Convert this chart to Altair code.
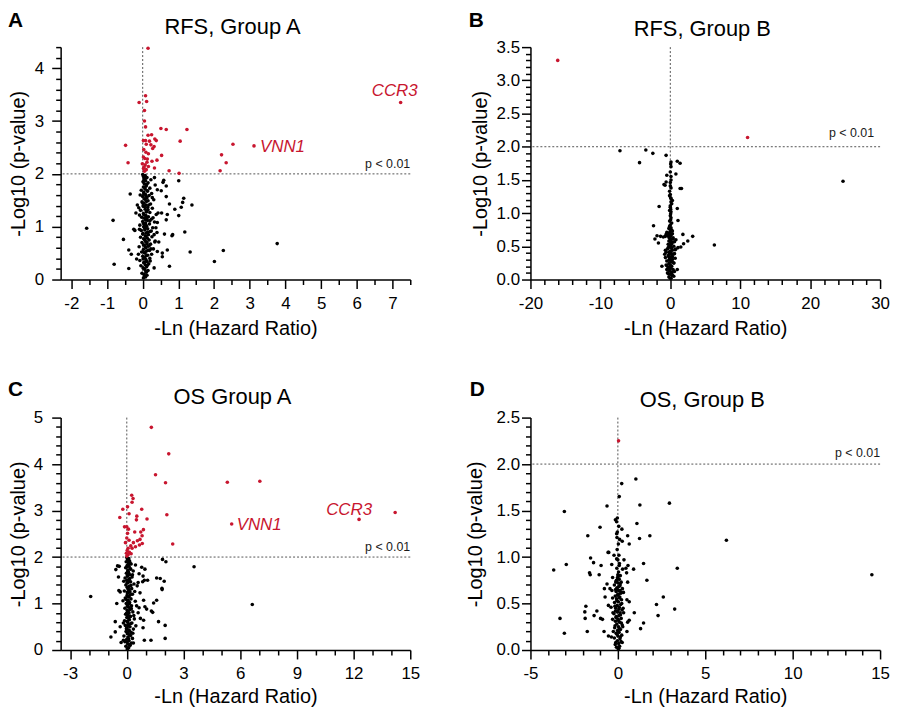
import altair as alt
import pandas as pd

FONT = "Liberation Sans"
RED = "#C8162F"
W, H = 352, 234
THRESH_Y = 2
ZERO_X = 0
DOT = 13

# ---------------- Panel A: RFS, Group A ----------------
A_SIG = [
    (0.15, 4.38), (0.08, 3.48), (0.11, 3.37), (-0.10, 3.35), (0.05, 3.20), (0.05, 3.00), (0.08, 2.89),
    (0.51, 2.86), (0.66, 2.84), (1.24, 2.84), (0.15, 2.73), (0.25, 2.74), (0.34, 2.66), (0.38, 2.63),
    (0.02, 2.63), (0.08, 2.63), (0.19, 2.62), (1.05, 2.62), (0.10, 2.56), (0.23, 2.55), (0.32, 2.52),
    (-0.48, 2.54), (0.28, 2.48), (0.03, 2.46), (2.21, 2.36), (0.53, 2.35), (0.16, 2.38), (0.02, 2.32),
    (0.06, 2.29), (0.40, 2.26), (0.26, 2.24), (0.12, 2.22), (-0.41, 2.21), (-0.01, 2.19), (0.07, 2.17),
    (0.16, 2.14), (0.33, 2.11), (0.74, 2.06), (1.02, 2.01), (0.02, 2.10), (2.17, 2.06), (2.34, 2.21),
    (2.53, 2.56), (3.12, 2.53), (7.23, 3.35), (0.05, 2.05), (0.10, 2.08), (0.04, 2.13), (0.13, 2.28),
    (0.09, 2.41),
]
A_NS = [
    (-1.57, 0.97), (-0.83, 1.12), (-0.80, 0.29), (-0.54, 0.76), (-0.35, 1.62), (-0.39, 0.21), (-0.22, 0.93),
    (-0.39, 0.56), (-0.32, 0.48), (-0.17, 0.39), (-0.15, 1.41), (-0.19, 1.26), (-0.09, 1.22), (-0.25, 0.95),
    (3.77, 0.68), (2.26, 0.55), (2.01, 0.34), (1.33, 0.52), (1.18, 0.90), (1.38, 1.41), (1.12, 1.46),
    (1.08, 1.37), (1.15, 1.54), (1.01, 1.87), (1.01, 1.21), (0.90, 1.33), (0.75, 1.43), (0.84, 0.85),
    (0.82, 0.83), (0.75, 0.25), (0.69, 0.56), (0.61, 0.86), (0.55, 0.50), (0.55, 0.43), (0.59, 1.88),
    (0.57, 1.84), (0.33, 1.93), (0.66, 1.77), (0.52, 1.68), (0.66, 1.57), (0.53, 1.26), (0.69, 1.23),
    (0.66, 1.13), (0.41, 1.08), (0.20, 1.11), (0.32, 0.22), (0.34, 0.71), (0.41, 0.53),
]
A_CORE = [
    (0.02, 0.03), (0.08, 0.05), (0.12, 0.08), (0.04, 0.10), (-0.02, 0.12), (0.10, 0.14), (0.15, 0.17),
    (0.06, 0.19), (0.01, 0.22), (0.11, 0.24), (-0.05, 0.26), (0.07, 0.28), (0.17, 0.30), (0.03, 0.32),
    (0.12, 0.34), (-0.08, 0.36), (0.09, 0.38), (0.20, 0.40), (0.05, 0.42), (0.00, 0.44), (0.14, 0.46),
    (0.25, 0.48), (0.07, 0.50), (-0.03, 0.52), (0.11, 0.54), (0.19, 0.55), (0.02, 0.57), (0.30, 0.58),
    (0.09, 0.60), (-0.10, 0.62), (0.15, 0.63), (0.05, 0.65), (0.22, 0.67), (0.12, 0.68), (-0.02, 0.70),
    (0.08, 0.72), (0.35, 0.73), (0.18, 0.75), (0.03, 0.77), (0.13, 0.78), (-0.06, 0.80), (0.26, 0.81),
    (0.07, 0.83), (0.16, 0.85), (0.01, 0.87), (0.10, 0.88), (0.40, 0.89), (0.21, 0.91), (-0.04, 0.93),
    (0.06, 0.94), (0.14, 0.96), (0.28, 0.98), (0.03, 1.00), (0.11, 1.01), (-0.08, 1.03), (0.19, 1.05),
    (0.08, 1.07), (0.33, 1.09), (0.00, 1.10), (0.13, 1.12), (0.24, 1.14), (0.05, 1.16), (-0.03, 1.18),
    (0.16, 1.19), (0.09, 1.21), (0.38, 1.23), (0.02, 1.25), (0.20, 1.27), (0.11, 1.29), (-0.06, 1.31),
    (0.07, 1.33), (0.27, 1.35), (0.14, 1.37), (0.01, 1.39), (0.09, 1.41), (0.22, 1.43), (0.04, 1.45),
    (-0.02, 1.47), (0.15, 1.49), (0.31, 1.51), (0.06, 1.53), (0.12, 1.55), (0.00, 1.57), (0.18, 1.59),
    (0.08, 1.61), (0.25, 1.63), (0.03, 1.65), (0.13, 1.67), (-0.04, 1.69), (0.07, 1.71), (0.20, 1.73),
    (0.02, 1.75), (0.10, 1.77), (0.35, 1.79), (0.05, 1.81), (0.15, 1.83), (0.01, 1.85), (0.08, 1.87),
    (0.23, 1.89), (0.04, 1.91), (0.12, 1.93), (0.02, 1.95), (0.07, 1.97), (0.00, 1.99),
    (0.05, 0.06), (0.09, 0.15), (0.03, 0.21), (0.13, 0.27), (0.06, 0.33), (0.01, 0.39), (0.10, 0.45),
    (0.04, 0.51), (0.16, 0.56), (0.07, 0.62), (0.02, 0.66), (0.12, 0.71), (0.05, 0.76), (0.09, 0.82),
    (0.00, 0.86), (0.14, 0.90), (0.06, 0.97), (0.10, 1.02), (0.02, 1.06), (0.08, 1.13), (0.12, 1.17),
    (0.04, 1.22), (0.10, 1.28), (0.15, 1.32), (0.05, 1.38), (0.01, 1.44), (0.11, 1.48), (0.06, 1.52),
    (0.09, 1.58), (0.03, 1.62), (0.14, 1.68), (0.06, 1.74), (0.11, 1.80), (0.03, 1.86), (0.09, 1.92),
    (0.05, 1.02), (0.18, 0.64), (0.24, 0.92), (0.29, 1.17), (0.17, 1.41), (0.21, 0.35), (0.23, 0.58),
    (0.32, 0.85), (0.27, 1.55), (0.43, 1.26), (0.37, 0.98), (-0.12, 0.48), (-0.09, 0.95), (-0.11, 1.36),
    (-0.07, 1.60), (0.45, 0.71), (0.41, 1.70),
]
A_GENES = [("CCR3", 7.23, 3.35, "center", -6, -7), ("VNN1", 3.12, 2.53, "left", 6, 6)]

# ---------------- Panel B: RFS, Group B ----------------
B_SIG = [(-16.1, 3.30), (11.05, 2.14)]
B_NS = [
    (-3.5, 1.95), (-2.5, 1.90), (-0.6, 1.87), (-4.4, 1.76), (0.1, 1.77), (0.05, 1.74), (1.0, 1.78),
    (1.4, 1.75), (0.8, 1.59), (-0.5, 1.57), (0.1, 1.50), (-0.6, 1.47), (-0.9, 1.43), (-0.75, 1.42),
    (0.0, 1.41), (1.6, 1.37), (1.4, 1.37), (-0.1, 1.26), (0.05, 1.23), (0.1, 1.22), (0.3, 1.19),
    (-1.6, 1.10), (0.0, 1.11), (1.0, 1.07), (0.05, 1.06), (0.05, 0.99), (0.05, 0.90), (1.1, 0.89),
    (-2.4, 0.81), (-0.1, 0.80), (-0.2, 0.77), (0.1, 0.75), (-0.5, 0.71), (1.8, 0.68), (0.1, 0.67),
    (-0.7, 0.65), (-1.4, 0.65), (-1.9, 0.66), (3.2, 0.65), (-2.2, 0.61), (-1.0, 0.64), (-0.2, 0.64),
    (0.4, 0.61), (0.8, 0.60), (2.5, 0.58), (-1.7, 0.55), (1.9, 0.54), (6.3, 0.52), (0.05, 0.51),
    (1.1, 0.48), (1.5, 0.49), (0.7, 0.45), (-0.6, 0.41), (-0.1, 0.39), (0.6, 0.39), (0.3, 0.34),
    (-0.7, 0.33), (-0.2, 0.29), (0.5, 0.25), (-0.5, 0.21), (-1.2, 0.20), (1.0, 0.15), (-0.1, 0.14),
    (-0.3, 0.09), (0.3, 0.06), (0.0, 0.02), (24.7, 1.48), (-7.2, 1.94),
]
B_CORE = [
    (0.1, 0.02), (-0.2, 0.04), (0.3, 0.06), (0.0, 0.08), (-0.4, 0.10), (0.2, 0.11), (-0.1, 0.13),
    (0.4, 0.15), (0.1, 0.17), (-0.3, 0.18), (0.2, 0.20), (0.0, 0.22), (-0.2, 0.24), (0.5, 0.25),
    (0.1, 0.27), (-0.5, 0.28), (0.3, 0.30), (-0.1, 0.31), (0.0, 0.33), (0.2, 0.35), (-0.3, 0.36),
    (0.4, 0.38), (0.1, 0.40), (-0.2, 0.41), (0.0, 0.43), (0.3, 0.44), (-0.4, 0.46), (0.2, 0.47),
    (-0.1, 0.49), (0.5, 0.50), (0.0, 0.52), (-0.3, 0.53), (0.1, 0.55), (0.3, 0.56), (-0.2, 0.58),
    (0.0, 0.59), (0.2, 0.61), (-0.1, 0.62), (0.4, 0.63), (0.0, 0.65), (-0.4, 0.66), (0.1, 0.68),
    (0.3, 0.69), (-0.2, 0.70), (0.0, 0.72), (0.2, 0.74), (-0.1, 0.76), (0.1, 0.78), (0.0, 0.82),
    (0.2, 0.85), (-0.1, 0.88), (0.1, 0.93), (0.0, 0.96), (0.1, 1.02), (-0.1, 1.04), (0.0, 1.09),
    (0.2, 1.14), (0.1, 1.17), (0.0, 1.28), (-0.1, 1.33), (0.1, 1.38), (0.0, 1.46), (0.1, 1.55),
    (0.0, 1.62), (0.1, 1.70), (0.6, 0.12), (-0.6, 0.22), (0.7, 0.32), (-0.7, 0.44), (0.6, 0.57),
    (-0.6, 0.68), (0.8, 0.46), (-0.8, 0.38), (0.5, 0.05), (-0.5, 0.15), (0.2, 0.09), (-0.1, 0.19),
    (0.3, 0.26), (-0.2, 0.34), (0.1, 0.39), (-0.3, 0.48), (0.2, 0.54), (0.0, 0.57), (-0.1, 0.67),
    (0.3, 0.73),
]
B_GENES = []

# ---------------- Panel C: OS Group A ----------------
C_SIG = [
    (1.30, 4.79), (2.22, 4.22), (1.52, 3.77), (2.05, 3.60), (5.32, 3.61), (7.04, 3.63), (0.26, 3.33),
    (0.33, 3.26), (0.28, 3.18), (0.04, 3.08), (-0.21, 3.03), (0.79, 3.03), (0.12, 2.93), (0.53, 2.88),
    (1.07, 2.82), (2.12, 2.91), (14.2, 2.96), (12.29, 2.81), (5.55, 2.71), (-0.37, 2.85), (0.51, 2.80),
    (-0.12, 2.65), (0.00, 2.65), (0.09, 2.60), (0.88, 2.59), (0.42, 2.54), (0.74, 2.54), (0.04, 2.51),
    (0.81, 2.46), (0.00, 2.41), (0.70, 2.38), (0.12, 2.36), (0.56, 2.35), (2.43, 2.28), (0.35, 2.31),
    (0.82, 2.29), (-0.07, 2.31), (0.67, 2.26), (0.21, 2.24), (0.46, 2.22), (0.07, 2.19), (0.28, 2.19),
    (0.02, 2.14), (0.14, 2.10), (-0.02, 2.08), (0.23, 2.07), (0.07, 2.05), (0.00, 2.02),
]
C_NS = [
    (-1.91, 1.15), (6.64, 0.98), (-0.58, 1.73), (-0.40, 1.80), (-0.49, 1.81), (1.89, 1.95), (2.07, 1.90),
    (3.56, 1.79), (0.79, 1.78), (0.96, 1.74), (0.65, 1.64), (0.86, 1.59), (0.93, 1.50), (0.60, 1.45),
    (1.10, 1.50), (1.58, 1.55), (1.77, 1.54), (1.98, 1.48), (1.86, 1.33), (1.87, 1.30), (0.84, 1.47),
    (-0.42, 1.28), (-0.35, 1.25), (0.70, 1.23), (1.58, 1.07), (1.42, 1.01), (0.89, 1.07), (-0.53, 1.00),
    (0.96, 0.93), (1.30, 0.84), (1.05, 0.88), (0.65, 0.91), (1.37, 0.81), (0.72, 0.68), (0.89, 0.64),
    (1.68, 0.61), (2.03, 0.53), (-0.61, 0.61), (-0.35, 0.50), (0.86, 0.48), (-0.84, 0.28), (-0.61, 0.39),
    (0.93, 0.21), (1.28, 0.21), (2.03, 0.25), (-0.30, 0.16), (-0.18, 0.21), (-0.44, 1.57),
]
C_CORE = [
    (0.02, 0.02), (0.10, 0.05), (-0.05, 0.08), (0.18, 0.10), (0.05, 0.13), (0.25, 0.15), (-0.10, 0.18),
    (0.12, 0.20), (0.00, 0.23), (0.30, 0.25), (0.07, 0.28), (-0.15, 0.30), (0.15, 0.33), (0.03, 0.35),
    (0.22, 0.38), (-0.04, 0.40), (0.10, 0.43), (0.35, 0.45), (0.01, 0.48), (0.17, 0.50), (-0.08, 0.53),
    (0.08, 0.55), (0.27, 0.58), (0.04, 0.60), (-0.12, 0.63), (0.14, 0.65), (0.40, 0.67), (0.00, 0.70),
    (0.20, 0.72), (0.06, 0.75), (-0.06, 0.77), (0.12, 0.80), (0.32, 0.82), (0.02, 0.85), (0.18, 0.87),
    (-0.10, 0.90), (0.09, 0.92), (0.25, 0.95), (0.04, 0.97), (-0.03, 1.00), (0.15, 1.02), (0.45, 1.05),
    (0.07, 1.07), (0.22, 1.10), (-0.08, 1.12), (0.11, 1.15), (0.01, 1.17), (0.30, 1.20), (0.05, 1.22),
    (0.17, 1.25), (-0.13, 1.27), (0.09, 1.30), (0.26, 1.32), (0.02, 1.35), (0.13, 1.37), (-0.05, 1.40),
    (0.38, 1.42), (0.07, 1.45), (0.20, 1.47), (0.00, 1.50), (0.11, 1.52), (-0.09, 1.55), (0.28, 1.57),
    (0.04, 1.60), (0.15, 1.62), (-0.02, 1.65), (0.09, 1.67), (0.34, 1.70), (0.06, 1.72), (0.18, 1.75),
    (-0.06, 1.77), (0.12, 1.80), (0.02, 1.82), (0.23, 1.85), (0.08, 1.87), (-0.03, 1.90), (0.14, 1.92),
    (0.04, 1.95), (0.10, 1.97), (0.00, 1.99),
    (0.06, 0.04), (0.14, 0.12), (0.02, 0.17), (0.09, 0.24), (0.20, 0.31), (0.05, 0.37), (0.13, 0.42),
    (-0.02, 0.46), (0.08, 0.52), (0.21, 0.57), (0.03, 0.62), (0.10, 0.68), (0.16, 0.73), (-0.01, 0.79),
    (0.07, 0.84), (0.24, 0.89), (0.03, 0.94), (0.13, 0.99), (0.06, 1.04), (-0.04, 1.09), (0.10, 1.14),
    (0.19, 1.19), (0.03, 1.24), (0.12, 1.29), (0.06, 1.34), (0.22, 1.39), (0.01, 1.44), (0.09, 1.49),
    (0.16, 1.54), (0.03, 1.59), (0.11, 1.64), (0.05, 1.69), (0.21, 1.74), (0.01, 1.79), (0.09, 1.84),
    (0.16, 1.89), (0.05, 1.94), (0.32, 0.36), (0.37, 0.74), (0.42, 1.26), (0.30, 1.62), (-0.18, 0.58),
    (-0.20, 1.06), (-0.16, 1.48), (0.48, 0.52), (0.52, 0.95), (0.46, 1.83), (0.55, 1.38), (0.60, 0.80),
    (0.35, 0.15),
]
C_GENES = [("VNN1", 5.55, 2.71, "left", 5, 6), ("CCR3", 12.29, 2.81, "center", -10, -4)]

# ---------------- Panel D: OS, Group B ----------------
D_SIG = [(0.04, 2.25)]
D_NS = [
    (1.03, 1.84), (0.22, 1.79), (0.08, 1.65), (-0.62, 1.55), (1.26, 1.56), (2.95, 1.58), (-0.03, 1.42),
    (-0.14, 1.40), (1.09, 1.36), (-1.02, 1.32), (-1.72, 1.23), (0.23, 1.30), (0.56, 1.23), (-0.07, 1.25),
    (-0.05, 1.21), (1.24, 1.20), (1.83, 1.23), (0.25, 1.17), (0.65, 1.14), (-0.52, 1.05), (-0.56, 1.05),
    (-1.56, 0.99), (-0.22, 1.02), (-0.07, 0.98), (0.35, 0.97), (-1.39, 0.94), (-0.35, 0.92), (-0.96, 0.91),
    (0.08, 0.91), (0.58, 0.91), (1.47, 0.93), (0.27, 0.87), (0.46, 0.88), (0.90, 0.87), (-1.62, 0.83),
    (-1.58, 0.81), (-1.07, 0.81), (0.00, 0.81), (0.03, 0.80), (0.50, 0.83), (-0.30, 0.78), (1.66, 0.75),
    (-0.11, 0.73), (0.56, 0.73), (-0.62, 0.71), (-0.77, 0.66), (-0.45, 0.66), (-0.34, 0.64), (-0.05, 0.66),
    (0.12, 0.64), (0.03, 0.60), (-0.73, 0.57), (0.52, 0.54), (2.60, 0.57), (0.65, 0.52), (2.21, 0.49),
    (-1.83, 0.47), (-0.54, 0.48), (-0.39, 0.46), (3.25, 0.44), (-1.20, 0.42), (-1.89, 0.41), (-0.14, 0.42),
    (0.33, 0.40), (0.94, 0.40), (-1.36, 0.37), (2.30, 0.37), (-1.87, 0.34), (-0.99, 0.34), (-0.88, 0.33),
    (-0.30, 0.33), (0.65, 0.32), (0.56, 0.30), (1.47, 0.29), (1.30, 0.23), (-1.75, 0.20), (-0.79, 0.20),
    (0.52, 0.20), (-0.54, 0.15), (-0.37, 0.14), (0.25, 0.08),
    (-3.06, 1.49), (-2.95, 0.92), (-3.67, 0.86), (-3.31, 0.34), (-3.06, 0.18), (6.21, 1.18), (14.53, 0.81),
    (3.40, 0.88),
]
D_CORE = [
    (0.02, 0.01), (-0.08, 0.03), (0.10, 0.04), (-0.15, 0.06), (0.05, 0.07), (0.18, 0.09), (-0.03, 0.10),
    (0.12, 0.12), (-0.20, 0.13), (0.00, 0.15), (0.22, 0.16), (-0.10, 0.18), (0.07, 0.19), (-0.02, 0.21),
    (0.15, 0.22), (-0.18, 0.24), (0.04, 0.25), (0.25, 0.27), (-0.06, 0.28), (0.10, 0.30), (-0.14, 0.31),
    (0.01, 0.33), (0.19, 0.34), (-0.09, 0.36), (0.06, 0.37), (-0.22, 0.39), (0.13, 0.40), (-0.01, 0.42),
    (0.24, 0.43), (-0.12, 0.45), (0.08, 0.46), (-0.04, 0.48), (0.16, 0.49), (-0.19, 0.51), (0.03, 0.52),
    (0.21, 0.54), (-0.07, 0.55), (0.11, 0.57), (-0.15, 0.58), (0.00, 0.60), (0.17, 0.61), (-0.10, 0.63),
    (0.05, 0.64), (0.26, 0.66), (-0.05, 0.67), (0.12, 0.69), (-0.20, 0.70), (0.02, 0.72), (0.19, 0.73),
    (-0.08, 0.75), (0.08, 0.76), (-0.02, 0.78), (0.14, 0.80), (0.04, 0.84), (-0.06, 0.88), (0.09, 0.93),
    (0.00, 0.97), (0.06, 1.02), (-0.04, 1.08), (0.03, 1.14), (0.10, 1.19), (-0.03, 1.27), (0.05, 1.33),
    (-0.07, 1.38),
    (0.06, 0.02), (-0.12, 0.08), (0.14, 0.14), (-0.05, 0.17), (0.09, 0.23), (-0.16, 0.26), (0.20, 0.29),
    (0.02, 0.32), (-0.11, 0.35), (0.15, 0.38), (-0.03, 0.41), (0.07, 0.44), (-0.17, 0.47), (0.22, 0.50),
    (-0.06, 0.53), (0.10, 0.56), (-0.01, 0.59), (0.18, 0.62), (-0.13, 0.65), (0.04, 0.68), (0.13, 0.71),
    (-0.09, 0.74), (0.01, 0.77), (0.30, 0.45), (-0.28, 0.40), (0.32, 0.62), (-0.30, 0.56), (0.28, 0.25),
    (-0.26, 0.20),
]
D_GENES = []


def ticks(lo, hi, step):
    n = int(round((hi - lo) / step))
    return [round(lo + i * step, 2) for i in range(n + 1)]


def major_test(step):
    return f"abs(round(datum.value*100) % {int(round(step * 100))}) === 0"


INT_FMT = "'' + datum.value"
DEC_FMT = "format(datum.value, '.1f')"

PANELS = [
    dict(letter="A", title="RFS, Group A", sig=A_SIG, ns=A_NS + A_CORE, genes=A_GENES,
         xdom=[-2.3, 7.5], xt=ticks(-2, 7.5, 0.5), xmaj=1, ydom=[0, 4.4], yt=ticks(0, 4.4, 0.2), ymaj=1,
         yfmt=INT_FMT, ylp=8, ytx=-36, xty=55, pdx=0, pdy=-6, lx=-53, ly=-20, tdx=-3, ty=-13),
    dict(letter="B", title="RFS, Group B", sig=B_SIG, ns=B_NS + B_CORE, genes=B_GENES,
         xdom=[-20, 30], xt=ticks(-20, 30, 2), xmaj=10, ydom=[0, 3.5], yt=ticks(0, 3.5, 0.1), ymaj=0.5,
         yfmt=DEC_FMT, ylp=2, ytx=-44, xty=55, pdx=-6, pdy=-10, lx=-62, ly=-20, tdx=-3, ty=-11),
    dict(letter="C", title="OS Group A", sig=C_SIG, ns=C_NS + C_CORE, genes=C_GENES,
         xdom=[-3.5, 15], xt=ticks(-3, 15, 1), xmaj=3, ydom=[0, 5], yt=ticks(0, 5, 0.2), ymaj=1,
         yfmt=INT_FMT, ylp=9, ytx=-36, xty=53, pdx=0, pdy=-6, lx=-53, ly=-22, tdx=-3, ty=-14),
    dict(letter="D", title="OS, Group B", sig=D_SIG, ns=D_NS + D_CORE, genes=D_GENES,
         xdom=[-5, 15], xt=ticks(-5, 15, 1), xmaj=5, ydom=[0, 2.5], yt=ticks(0, 2.5, 0.1), ymaj=0.5,
         yfmt=DEC_FMT, ylp=2, ytx=-49, xty=53, pdx=0, pdy=-7, lx=-61, ly=-22, tdx=-3, ty=-11),
]


def panel(c):
    xtest = major_test(c["xmaj"])
    ytest = major_test(c["ymaj"])
    xaxis = alt.Axis(
        values=c["xt"], title="-Ln (Hazard Ratio)",
        tickSize={"condition": {"test": xtest, "value": 9}, "value": 5},
        labelExpr=f"{xtest} ? {INT_FMT} : ''", labelPadding=7, labelFlush=False, labelOverlap=False,
        titleX=W / 2, titleY=c["xty"], titleBaseline="alphabetic", titleAlign="center",
    )
    yaxis = alt.Axis(
        values=c["yt"], title="-Log10 (p-value)",
        tickSize={"condition": {"test": ytest, "value": 9}, "value": 5},
        labelExpr=f"{ytest} ? {c['yfmt']} : ''", labelPadding=c["ylp"], labelFlush=False, labelOverlap=False,
        titleX=c["ytx"], titleY=H / 2, titleBaseline="alphabetic", titleAlign="center", titleAngle=270,
    )
    X = alt.X("x:Q", scale=alt.Scale(domain=c["xdom"], nice=False, zero=False), axis=xaxis)
    Y = alt.Y("y:Q", scale=alt.Scale(domain=c["ydom"], nice=False, zero=False), axis=yaxis)

    rule_style = dict(color="#555555", strokeDash=[2, 2], strokeWidth=1)
    hrule = alt.Chart(pd.DataFrame({"y": [THRESH_Y]})).mark_rule(**rule_style).encode(y=Y)
    vrule = alt.Chart(pd.DataFrame({"x": [ZERO_X]})).mark_rule(**rule_style).encode(x=X)

    ns = alt.Chart(pd.DataFrame(c["ns"], columns=["x", "y"])).mark_circle(
        size=DOT, color="black", opacity=1).encode(x=X, y=Y)
    sig = alt.Chart(pd.DataFrame(c["sig"], columns=["x", "y"])).mark_circle(
        size=DOT, color=RED, opacity=1).encode(x=X, y=Y)

    ptxt = alt.Chart(pd.DataFrame({"x": [c["xdom"][1]], "y": [THRESH_Y], "label": ["p < 0.01"]})).mark_text(
        align="right", baseline="alphabetic", dx=c["pdx"], dy=c["pdy"], fontSize=12.5, font=FONT,
        color="#1a1a1a").encode(x=X, y=Y, text="label:N")

    layers = [vrule, hrule, ns, sig, ptxt]
    for g, gx, gy, al, dx, dy in c["genes"]:
        layers.append(
            alt.Chart(pd.DataFrame({"x": [gx], "y": [gy], "label": [g]})).mark_text(
                align=al, baseline="alphabetic", dx=dx, dy=dy, fontSize=17, fontStyle="italic",
                font=FONT, color=RED).encode(x=X, y=Y, text="label:N"))

    letter = alt.Chart(pd.DataFrame({"label": [c["letter"]]})).mark_text(
        align="left", baseline="alphabetic", fontSize=21, fontWeight="bold", font=FONT, color="black"
    ).encode(x=alt.value(c["lx"]), y=alt.value(c["ly"]), text="label:N")
    title = alt.Chart(pd.DataFrame({"label": [c["title"]]})).mark_text(
        align="center", baseline="alphabetic", fontSize=22, font=FONT, color="black", dx=c["tdx"]
    ).encode(x=alt.value(W / 2), y=alt.value(c["ty"]), text="label:N")
    layers += [letter, title]

    return alt.layer(*layers).properties(width=W, height=H)


chart = alt.concat(
    *[panel(c) for c in PANELS], columns=2, spacing={"row": 139, "column": 121}, bounds="flush"
).properties(
    padding={"left": 0, "top": 0, "right": 2, "bottom": 0}
).configure_view(stroke=None).configure_axis(
    domainColor="black", domainWidth=1.5, tickColor="black", tickWidth=1.5, grid=False,
    labelFont=FONT, labelFontSize=17, labelColor="black",
    titleFont=FONT, titleFontSize=20, titleFontWeight="normal", titleColor="black",
)

chart.save("out.html", embed_options={"renderer": "svg", "actions": False})
